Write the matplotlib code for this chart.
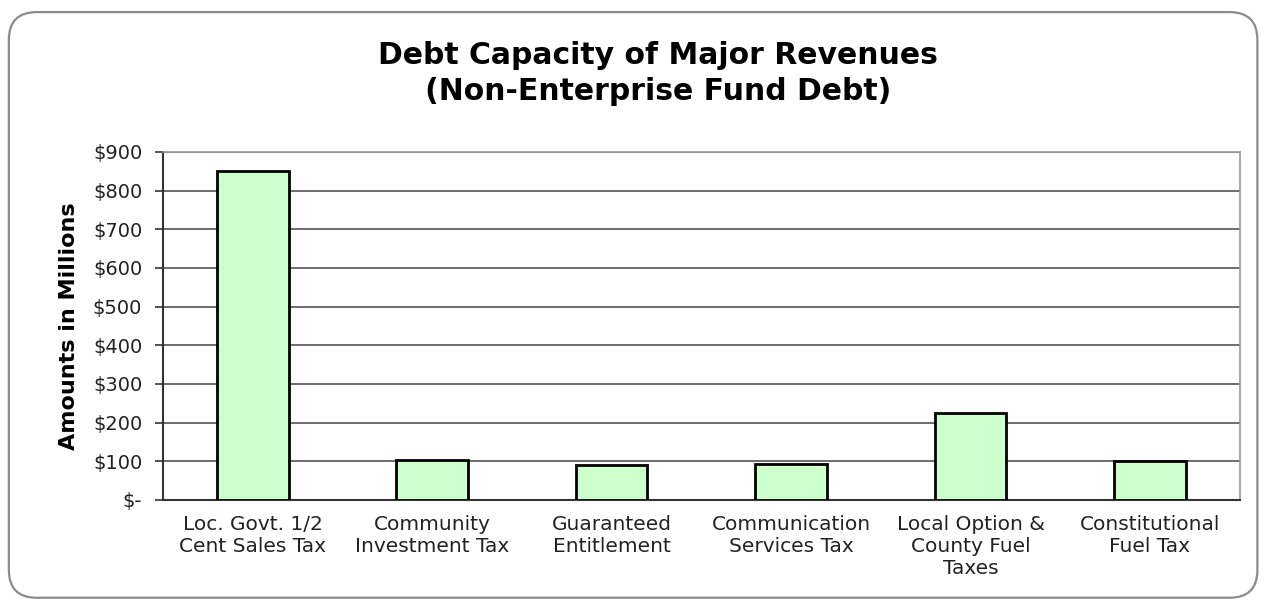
import matplotlib
matplotlib.use("Agg")
import matplotlib.pyplot as plt
from matplotlib.patches import FancyBboxPatch

# Chart data
categories = [
    "Loc. Govt. 1/2\nCent Sales Tax",
    "Community\nInvestment Tax",
    "Guaranteed\nEntitlement",
    "Communication\nServices Tax",
    "Local Option &\nCounty Fuel\nTaxes",
    "Constitutional\nFuel Tax",
]
amounts = [850, 103, 90, 93, 226, 101]
y_ticks = [0, 100, 200, 300, 400, 500, 600, 700, 800, 900]
y_tick_labels = ["$-", "$100", "$200", "$300", "$400", "$500", "$600", "$700", "$800", "$900"]

plt.rcParams["font.family"] = ["DejaVu Sans"]

fig = plt.figure(figsize=(12.65, 6.05), dpi=100)

# rounded border around the whole chart
border = FancyBboxPatch((0.007, 0.012), 0.987, 0.968,
                        boxstyle="round,pad=0,rounding_size=0.022",
                        transform=fig.transFigure, facecolor="none",
                        edgecolor="#8c8c8c", linewidth=1.6, mutation_aspect=2.09,
                        zorder=-1)
fig.patches.append(border)

ax = fig.add_axes([0.1289, 0.1736, 0.851, 0.5752])
ax.set_facecolor("white")

x = range(len(categories))
ax.bar(x, amounts, width=0.4, color="#ccffcc", edgecolor="black", linewidth=2, zorder=3)

ax.set_xlim(-0.5, len(categories) - 0.5)
ax.set_ylim(0, 900)
ax.set_yticks(y_ticks)
ax.set_yticklabels(y_tick_labels, fontsize=14, color="#222222")
ax.set_xticks(list(x))
ax.set_xticklabels(categories, fontsize=14.5, color="#222222", linespacing=1.2)
ax.tick_params(axis="x", length=0, pad=11)
ax.tick_params(axis="y", direction="out", length=6, width=1.2, color="#333333", pad=9)

ax.yaxis.grid(True, color="#555555", linewidth=1.2, zorder=0)
ax.set_axisbelow(True)

for side in ["top", "right"]:
    ax.spines[side].set_color("#999999")
    ax.spines[side].set_linewidth(1.2)
ax.spines["left"].set_color("#333333")
ax.spines["left"].set_linewidth(1.5)
ax.spines["bottom"].set_color("#333333")
ax.spines["bottom"].set_linewidth(1.5)

ax.set_ylabel("Amounts in Millions", fontsize=16, fontweight="bold", labelpad=10)

fig.text(0.52, 0.878, "Debt Capacity of Major Revenues\n(Non-Enterprise Fund Debt)",
         ha="center", va="center", fontsize=21.5, fontweight="bold", linespacing=1.3)

fig.savefig("out.png", dpi=100)
